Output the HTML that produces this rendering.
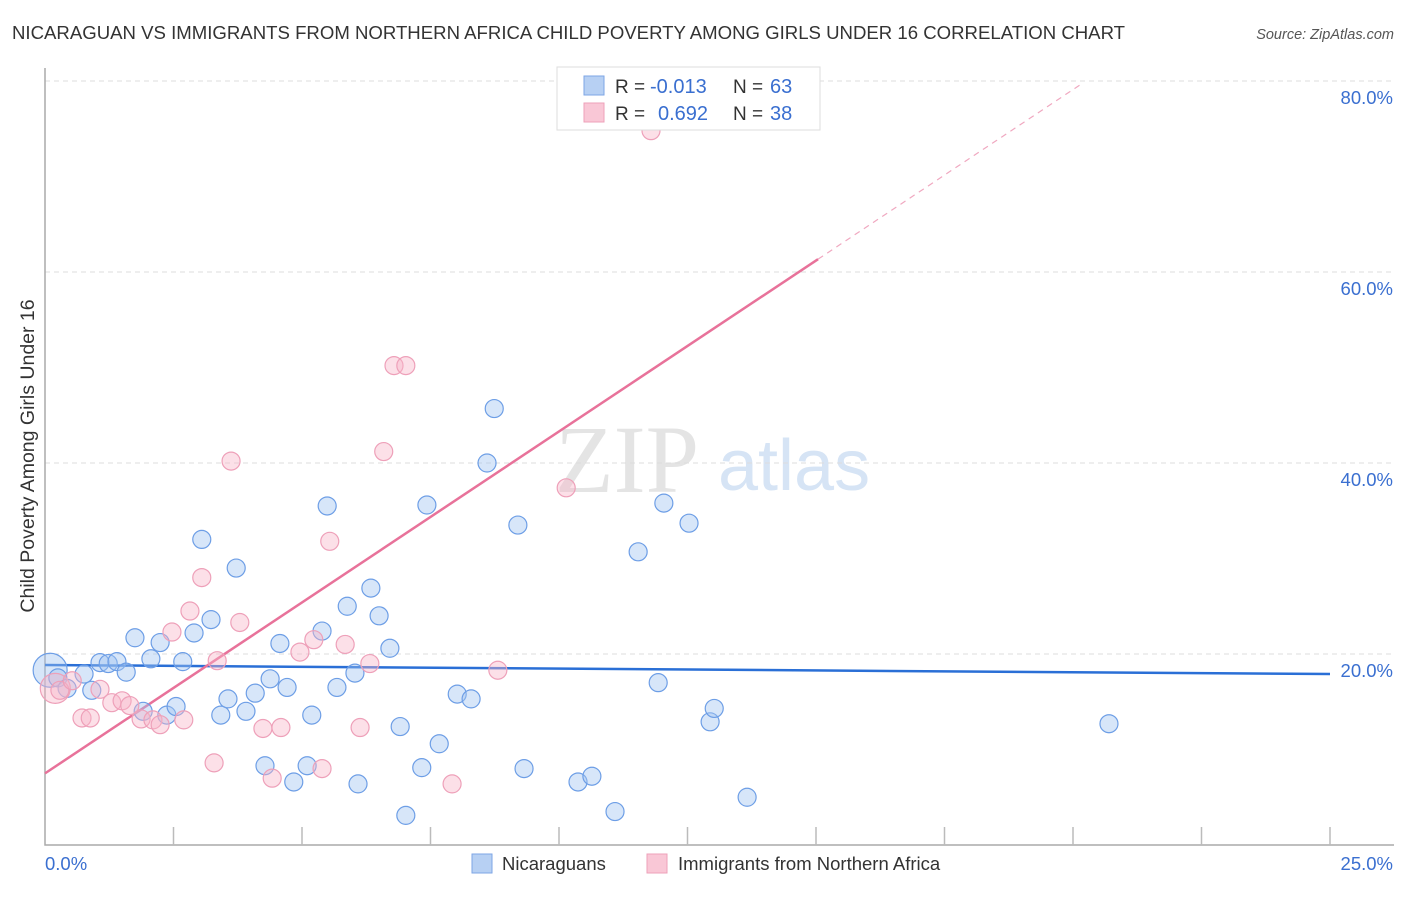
<!DOCTYPE html>
<html><head><meta charset="utf-8"><style>
body{margin:0;background:#fff;font-family:"Liberation Sans",sans-serif}
</style></head><body>
<svg width="1406" height="892" xmlns="http://www.w3.org/2000/svg" font-family="Liberation Sans, sans-serif">
<text x="12" y="39" font-size="18.6" fill="#333">NICARAGUAN VS IMMIGRANTS FROM NORTHERN AFRICA CHILD POVERTY AMONG GIRLS UNDER 16 CORRELATION CHART</text>
<text x="1394" y="39" font-size="14.5" fill="#555" text-anchor="end" font-style="italic">Source: ZipAtlas.com</text>
<g>
<text x="555" y="492" font-size="96" fill="#e4e4e4" font-family="Liberation Serif, serif">ZIP</text>
<text x="718" y="490" font-size="72" fill="#d6e4f5">atlas</text>
</g>
<g id="grid"></g>
<g id="axes"></g>
<g id="lines"></g>
<g id="pts"></g>
<text transform="translate(34,456) rotate(-90)" font-size="19.5" fill="#333" text-anchor="middle">Child Poverty Among Girls Under 16</text>
<g>
<rect x="557" y="67" width="263" height="63" fill="#fff" stroke="#ddd"/>
<rect x="584" y="76" width="20" height="19" fill="#b7d0f3" stroke="#7ea6e6"/>
<rect x="584" y="103" width="20" height="19" fill="#f9c7d6" stroke="#eea0b9"/>
<text x="615" y="93" font-size="19" fill="#333">R =</text>
<text x="650" y="93" font-size="20" fill="#3a6fd0">-0.013</text>
<text x="733" y="93" font-size="19" fill="#333">N =</text>
<text x="770" y="93" font-size="20" fill="#3a6fd0">63</text>
<text x="615" y="120" font-size="19" fill="#333">R =</text>
<text x="658" y="120" font-size="20" fill="#3a6fd0">0.692</text>
<text x="733" y="120" font-size="19" fill="#333">N =</text>
<text x="770" y="120" font-size="20" fill="#3a6fd0">38</text>
</g>
<g>
<rect x="472" y="854" width="20" height="19" fill="#b7d0f3" stroke="#7ea6e6"/>
<text x="502" y="870" font-size="18.5" fill="#333">Nicaraguans</text>
<rect x="647" y="854" width="20" height="19" fill="#f9c7d6" stroke="#eea0b9"/>
<text x="678" y="870" font-size="18.5" fill="#333">Immigrants from Northern Africa</text>
</g>
</svg>
<script>
const blueX=[0.1,0.25,0.43,0.76,0.91,1.07,1.23,1.4,1.58,1.75,1.91,2.06,2.24,2.37,2.55,2.68,2.9,3.05,3.23,3.42,3.56,3.72,3.91,4.09,4.28,4.38,4.57,4.71,4.84,5.1,5.19,5.39,5.49,5.68,5.88,6.03,6.09,6.34,6.5,6.71,6.91,7.02,7.33,7.43,7.67,8.02,8.29,8.6,8.74,9.2,9.32,10.37,10.64,11.09,11.54,11.93,12.04,12.53,12.94,13.02,13.66,20.7];
const blueY=[18.3,17.5,16.4,17.9,16.2,19.1,19.0,19.2,18.1,21.7,14.0,19.5,21.2,13.6,14.5,19.2,22.2,32.0,23.6,13.6,15.3,29.0,14.0,15.9,8.3,17.4,21.1,16.5,6.6,8.3,13.6,22.4,35.5,16.5,25.0,18.0,6.4,26.9,24.0,20.6,12.4,3.1,8.1,35.6,10.6,15.8,15.3,40.0,45.7,33.5,8.0,6.6,7.2,3.5,30.7,17.0,35.8,33.7,12.9,14.3,5.0,12.7];
const pinkX=[0.2,0.29,0.53,0.72,0.88,1.07,1.3,1.5,1.65,1.87,2.1,2.24,2.47,2.7,2.82,3.05,3.29,3.35,3.62,3.79,4.24,4.42,4.59,4.96,5.23,5.39,5.54,5.84,6.13,6.32,6.59,6.79,7.02,7.92,8.81,10.14,11.79];
const pinkY=[16.4,16.2,17.2,13.3,13.3,16.3,14.9,15.1,14.6,13.2,13.1,12.6,22.3,13.1,24.5,28.0,8.6,19.3,40.2,23.3,12.2,7.0,12.3,20.2,21.5,8.0,31.8,21.0,12.3,19.0,41.2,50.2,50.2,6.4,18.3,37.4,74.8];
const yTicks=[20,40,60,80];
const xTickLabels=["0.0%","25.0%"];
const blueFit=[18.85,17.9];
const pinkFit=[7.5,3.58];
const NS="http://www.w3.org/2000/svg";
const sx=v=>45+v*51.4, sy=v=>845-v*9.55;
function mk(p,t,a){const e=document.createElementNS(NS,t);for(const k in a)e.setAttribute(k,a[k]);document.getElementById(p).appendChild(e);return e;}
yTicks.forEach(t=>{
 const g=mk('grid','line',{x1:45,x2:1394,y1:sy(t),y2:sy(t),stroke:'#ddd','stroke-dasharray':'5,4'});
 
 
 const l=mk('grid','text',{x:1393,y:sy(t)+23,'font-size':18.5,fill:'#3a6fd0','text-anchor':'end'});
 l.textContent=t.toFixed(1)+'%';
 
 
});
const ax=mk('axes','path',{d:'M45,68V845H1394',fill:'none',stroke:'#aaa','stroke-width':1.5});


for(let i=1;i<=10;i++){const t=mk('axes','line',{x1:sx(i*2.5),x2:sx(i*2.5),y1:827,y2:845,stroke:'#bbb','stroke-width':1.5});
 
 }
const xl0=mk('axes','text',{x:45,y:870,'font-size':18.5,fill:'#3a6fd0'});xl0.textContent=xTickLabels[0];


const xl1=mk('axes','text',{x:1393,y:870,'font-size':18.5,fill:'#3a6fd0','text-anchor':'end'});xl1.textContent=xTickLabels[1];


function pts(X,Y,fill,stroke,name,r0){X.forEach((x,i)=>{const c=mk('pts','circle',{cx:sx(x),cy:sy(Y[i]),r:i==0?r0:9,fill:fill,stroke:stroke,'stroke-width':1.2});
 
 });}
pts(blueX,blueY,'rgba(160,195,240,0.42)','#6d9ee6','nicaraguan-point',17);
pts(pinkX,pinkY,'rgba(248,180,200,0.42)','#eea0b9','immigrant-point',15);
const bl=mk('lines','line',{x1:sx(0),x2:sx(25),y1:sy(blueFit[0]),y2:sy(blueFit[1]),stroke:'#2a6fd6','stroke-width':2.5});


const pl=mk('lines','line',{x1:sx(0),x2:sx(15.04),y1:sy(pinkFit[0]),y2:sy(pinkFit[0]+pinkFit[1]*15.04),stroke:'#e8729a','stroke-width':2.5});


const pd=mk('lines','line',{x1:sx(15.04),x2:sx(20.2),y1:sy(pinkFit[0]+pinkFit[1]*15.04),y2:sy(pinkFit[0]+pinkFit[1]*20.2),stroke:'#f0a8c0','stroke-width':1.2,'stroke-dasharray':'6,5'});


</script>
</body></html>
